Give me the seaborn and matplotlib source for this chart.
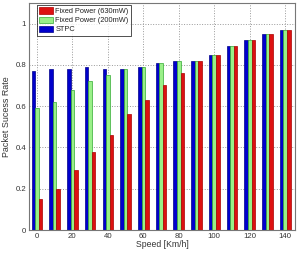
import numpy as np
import pandas as pd
import matplotlib
matplotlib.use('Agg')
import matplotlib.pyplot as plt
import seaborn as sns

## Data
speeds   = [0, 10, 20, 30, 40, 50, 60, 70, 80, 90, 100, 110, 120, 130, 140]
stpc     = [0.77, 0.78, 0.78, 0.79, 0.78, 0.78, 0.79, 0.81, 0.82, 0.82, 0.85, 0.89, 0.92, 0.95, 0.97]
fp200    = [0.59, 0.62, 0.68, 0.72, 0.75, 0.78, 0.79, 0.81, 0.82, 0.82, 0.85, 0.89, 0.92, 0.95, 0.97]
fp630    = [0.15, 0.20, 0.29, 0.38, 0.46, 0.56, 0.63, 0.70, 0.76, 0.82, 0.85, 0.89, 0.92, 0.95, 0.97]
labels   = ['STPC', 'Fixed Power (200mW)', 'Fixed Power (630mW)']
colors   = ['#0000cc', '#99f088', '#dd1111']
edges    = ['#000088', '#33aa33', '#aa0000']

df = pd.DataFrame({
    'speed': speeds * 3,
    'rate':  stpc + fp200 + fp630,
    'series': [labels[0]] * len(speeds) + [labels[1]] * len(speeds) + [labels[2]] * len(speeds),
})

sns.set_style('white')
plt.rcParams['font.family'] = ['Liberation Sans', 'DejaVu Sans']

fig = plt.figure(figsize=(3.01, 2.65), dpi=100)
ax = fig.add_axes([0.096, 0.132, 0.884, 0.857])

sns.barplot(data=df, x='speed', y='rate', hue='series', hue_order=labels,
            palette=colors, native_scale=True, width=0.6, gap=0,
            saturation=1, legend=False, ax=ax)

for i, cont in enumerate(ax.containers):
    for b in cont:
        b.set_edgecolor(edges[i])
        b.set_linewidth(0.5)

ax.set_xlim(-4.5, 145.5)
ax.set_ylim(0, 1.1)
ax.set_xticks(np.arange(0, 141, 20))
ax.set_yticks([0, 0.2, 0.4, 0.6, 0.8, 1.0])
ax.set_yticklabels(['0', '0.2', '0.4', '0.6', '0.8', '1'])
ax.tick_params(labelsize=5.6, length=2, direction='in', pad=2, colors='#333333')
ax.grid(color='#999999', linestyle=':', linewidth=0.7)
ax.set_axisbelow(True)
for sp in ax.spines.values():
    sp.set_color('#777777')
    sp.set_linewidth(0.8)
ax.set_xlabel('Speed [Km/h]', fontsize=6.2, labelpad=0, color='#333333')
ax.set_ylabel('Packet Sucess Rate', fontsize=6.4, labelpad=3, color='#333333')

# Legend in reverse order (red, green, blue)
handles = [plt.Rectangle((0, 0), 1, 1, facecolor=colors[i], edgecolor=edges[i], linewidth=0.5) for i in [2, 1, 0]]
leg = ax.legend(handles, [labels[i] for i in [2, 1, 0]], loc='upper left',
                bbox_to_anchor=(0.03, 0.99), fontsize=5.3,
                frameon=True, fancybox=False, borderaxespad=0, handlelength=1.9,
                handleheight=0.95, labelspacing=0.2, borderpad=0.3, handletextpad=0.3)
leg.get_frame().set_edgecolor('black')
leg.get_frame().set_linewidth(0.6)
for t in leg.get_texts():
    t.set_color('#222222')

fig.savefig('out.png', dpi=100)
